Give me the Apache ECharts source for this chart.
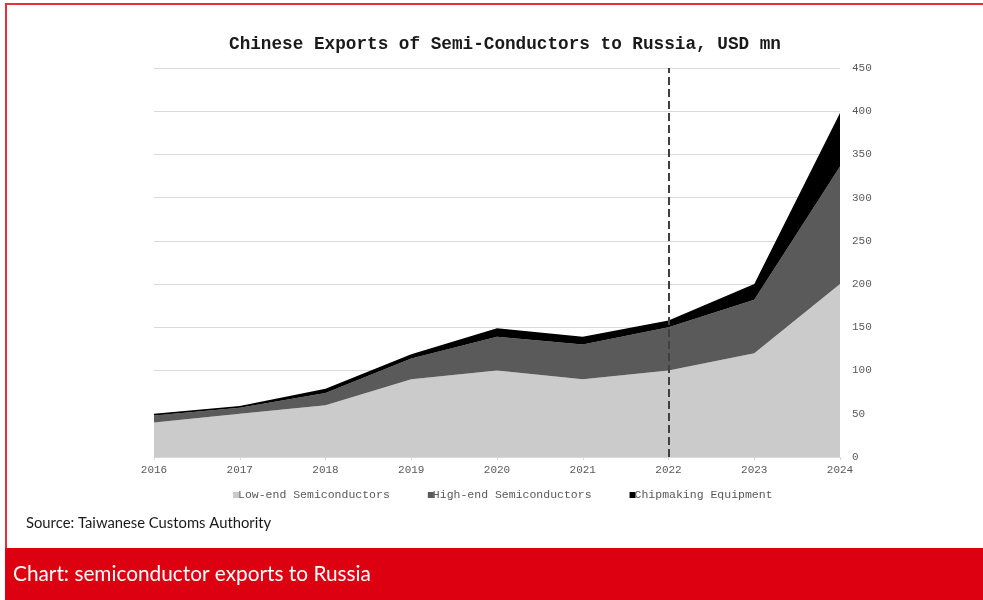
<!DOCTYPE html>
<html><head><meta charset="utf-8">
<script src="https://cdn.jsdelivr.net/npm/echarts@6/dist/echarts.min.js"></script>
<style>html,body{margin:0;padding:0;background:#fff}#c{width:983px;height:600px}</style>
</head><body><div id="c"></div>
<script>
const years = ['2016','2017','2018','2019','2020','2021','2022','2023','2024'];
const lowEnd = [40, 50, 60, 90, 100, 90, 100, 120, 200];
const highEnd = [8, 7, 14, 24, 39, 40, 50, 62, 136];
const chipmaking = [2, 2, 5, 5, 10, 9, 8, 18, 62];
const seriesNames = ['Low-end Semiconductors', 'High-end Semiconductors', 'Chipmaking Equipment'];
const markYear = '2022';
const title = 'Chinese Exports of Semi-Conductors to Russia, USD mn';
const source = 'Source: Taiwanese Customs Authority';
const caption = 'Chart: semiconductor exports to Russia';

const mono = '"Liberation Mono", "Courier New", monospace';
const colors = ['#cbcbcb', '#5a5a5a', '#000000'];
const data = [lowEnd, highEnd, chipmaking];

const chart = echarts.init(document.getElementById('c'), null, {renderer: 'canvas'});
chart.setOption({
  animation: false,
  title: {text: title, left: 500, textAlign: 'center', top: 31,
    textStyle: {fontFamily: mono, fontWeight: 'bold', fontSize: 17.7, color: '#1a1a1a'}},
  legend: {bottom: 94, left: 228, itemWidth: 6, itemHeight: 6, itemGap: 38,
    icon: 'rect', textStyle: {fontFamily: mono, fontSize: 11.5, color: '#595959', padding: [0,0,0,-6]},
    data: seriesNames},
  grid: {left: 154, right: 143, top: 68, bottom: 143},
  xAxis: {type: 'category', data: years, boundaryGap: false,
    axisLine: {lineStyle: {color: '#d9d9d9'}},
    axisTick: {show: true, length: 3, lineStyle: {color: '#d9d9d9'}},
    axisLabel: {fontFamily: mono, fontSize: 11, color: '#595959', margin: 8}},
  yAxis: {type: 'value', position: 'right', min: 0, max: 450, interval: 50,
    axisLine: {show: false}, axisTick: {show: false},
    splitLine: {lineStyle: {color: '#d9d9d9', width: 1}},
    axisLabel: {fontFamily: mono, fontSize: 11, color: '#595959', margin: 12}},
  series: data.map((d, i) => ({
    name: seriesNames[i], type: 'line', stack: 'total', data: d,
    symbol: 'none', lineStyle: {width: 0}, color: colors[i],
    areaStyle: {color: colors[i], opacity: 1},
    markLine: i === 2 ? {symbol: 'none', silent: true, label: {show: false},
      lineStyle: {color: '#404040', type: [8, 4], width: 2},
      data: [{xAxis: markYear}]} : undefined
  })),
  graphic: [
    {type: 'line', shape: {x1: 5, y1: 4, x2: 983, y2: 4}, style: {stroke: '#e8303c', lineWidth: 2}},
    {type: 'line', shape: {x1: 6, y1: 3, x2: 6, y2: 548}, style: {stroke: '#e8303c', lineWidth: 2}},
    {type: 'rect', shape: {x: 5, y: 548, width: 978, height: 52}, style: {fill: '#dc0011'}, z: 10},
    {type: 'text', left: 26, top: 516, style: {text: source, fill: '#1a1a1a', fontSize: 14.8,
      fontFamily: 'Lato, "Open Sans", sans-serif'}},
    {type: 'text', left: 13, top: 564, z: 11, style: {text: caption, fill: '#ffffff', fontSize: 20.8,
      fontFamily: 'Lato, "Open Sans", sans-serif'}}
  ]
});
</script></body></html>
